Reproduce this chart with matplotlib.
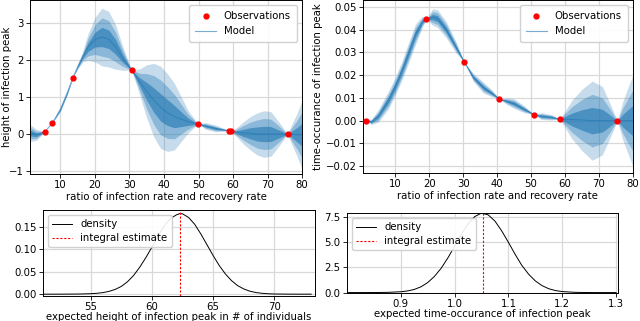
import matplotlib
matplotlib.use("Agg")
import matplotlib.pyplot as plt
import numpy as np

plt.rcParams['font.family'] = ['DejaVu Sans']
plt.rcParams['font.size'] = 7.3

# --- top left: height of infection peak (GP fit) ---
h_obs_x = [5.5, 7.6, 13.6, 30.6, 49.9, 58.8, 59.4, 75.8]
h_obs_y = [0.06, 0.29, 1.52, 1.73, 0.27, 0.09, 0.07, 0.0]
h_x = [1.0, 3.0, 5.5, 7.6, 10.0, 12.0, 13.6, 15.0, 16.5, 18.0, 20.0, 22.0, 24.0,
       26.0, 28.0, 30.6, 33.0, 35.0, 37.0, 39.0, 41.0, 43.0, 45.0, 47.0, 49.9,
       52.0, 55.0, 58.8, 59.4, 61.0, 63.0, 65.0, 67.0, 69.0, 71.0, 73.0, 75.8,
       77.0, 78.5, 80.0]
h_mean = [0.03, -0.02, 0.06, 0.29, 0.67, 1.12, 1.52, 1.82, 2.1, 2.35, 2.55, 2.62, 2.56,
          2.35, 2.05, 1.73, 1.4, 1.15, 0.92, 0.72, 0.58, 0.47, 0.4, 0.33, 0.27,
          0.22, 0.15, 0.09, 0.07, 0.05, 0.03, 0.02, 0.0, 0.0, 0.0, 0.0, 0.0,
          -0.01, -0.02, -0.02]
h_std = [0.08, 0.05, 0.0, 0.0, 0.02, 0.02, 0.0, 0.02, 0.05, 0.12, 0.2, 0.26, 0.25,
         0.2, 0.11, 0.0, 0.12, 0.24, 0.33, 0.37, 0.35, 0.3, 0.2, 0.1, 0.0,
         0.03, 0.03, 0.0, 0.0, 0.04, 0.1, 0.15, 0.19, 0.21, 0.2, 0.12, 0.0,
         0.09, 0.19, 0.31]

# --- top right: time-occurance of infection peak (GP fit) ---
t_obs_x = [1.5, 19.2, 30.4, 40.7, 51.0, 58.4, 75.4]
t_obs_y = [0.0, 0.0446, 0.0256, 0.0095, 0.0026, 0.0007, 0.0]
t_x = [0.5, 1.5, 3.0, 5.0, 8.0, 10.0, 12.0, 14.0, 16.0, 18.0, 19.2, 21.0, 22.5,
       25.0, 28.0, 30.4, 33.0, 36.0, 38.5, 40.7, 43.0, 45.0, 48.0, 51.0, 53.0,
       56.0, 58.4, 60.0, 62.0, 65.0, 68.0, 71.0, 73.0, 75.4, 77.0, 78.5, 80.0]
t_mean = [0.0002, 0.0, -0.0005, 0.002, 0.009, 0.015, 0.022, 0.030, 0.038, 0.0435, 0.0446,
          0.0455, 0.0448, 0.040, 0.032, 0.0256, 0.019, 0.0145, 0.012, 0.0095, 0.0085,
          0.0075, 0.005, 0.0026, 0.002, 0.0015, 0.0007, 0.0006, 0.0005, 0.0003, 0.0,
          0.0, 0.0, 0.0, 0.0, 0.0, 0.0]
t_std = [0.0004, 0.0, 0.0004, 0.0009, 0.0013, 0.0013, 0.0014, 0.0015, 0.0015, 0.0008, 0.0,
         0.0012, 0.0013, 0.0012, 0.0008, 0.0, 0.0006, 0.0008, 0.0005, 0.0, 0.0005,
         0.0007, 0.0005, 0.0, 0.0005, 0.0004, 0.0, 0.0012, 0.0028, 0.0045, 0.0058,
         0.005, 0.0028, 0.0, 0.0028, 0.0048, 0.0067]

# --- bottom left: density of expected height ---
hd_x = [51.0, 52.0, 53.0, 54.0, 54.5, 55.0, 55.5, 56.0, 56.5, 57.0, 57.5, 58.0, 58.5,
        59.0, 59.5, 60.0, 60.5, 61.0, 61.5, 62.0, 62.3, 62.5, 63.0, 63.5, 64.0,
        64.5, 65.0, 65.5, 66.0, 66.5, 67.0, 67.5, 68.0, 68.5, 69.0, 69.5, 70.0,
        71.0, 72.0, 73.0]
hd_y = [0.0, 0.0, 0.0001, 0.0003, 0.0006, 0.0011, 0.0019, 0.0035, 0.0062, 0.0106,
        0.0173, 0.0276, 0.0416, 0.06, 0.0814, 0.105, 0.1296, 0.152, 0.1687, 0.177,
        0.18, 0.1793, 0.171, 0.1556, 0.134, 0.11, 0.086, 0.0637, 0.045, 0.0301,
        0.019, 0.0116, 0.0066, 0.0036, 0.0019, 0.0009, 0.0004, 0.0001, 0.0, 0.0]
h_estimate = 62.26

# --- bottom right: density of expected time-occurance ---
td_x = [0.800, 0.825, 0.850, 0.875, 0.900, 0.9125, 0.925, 0.9375, 0.950, 0.9625,
        0.975, 0.9875, 1.000, 1.0125, 1.025, 1.0375, 1.050, 1.0625, 1.075, 1.0875,
        1.100, 1.1125, 1.125, 1.1375, 1.150, 1.1625, 1.175, 1.1875, 1.200, 1.225,
        1.250, 1.275, 1.300]
td_y = [0.0, 0.001, 0.004, 0.02, 0.08, 0.16, 0.31, 0.57, 0.99, 1.6,
        2.41, 3.44, 4.60, 5.78, 6.83, 7.56, 7.90, 7.73, 7.11, 6.14,
        5.0, 3.8, 2.7, 1.83, 1.16, 0.69, 0.38, 0.2, 0.099, 0.02,
        0.003, 0.0004, 0.0]
t_estimate = 1.052

blue = '#1f77b4'
grid_col = '#d9d9d9'


def gp_panel(ax, x, mean, std, obs_x, obs_y):
    x = np.asarray(x)
    mean = np.asarray(mean)
    std = np.asarray(std)
    for k, a in [(3, 0.25), (2, 0.35), (1, 0.6)]:
        ax.fill_between(x, mean - k * std, mean + k * std, color=blue,
                        alpha=a, linewidth=0)
    ax.plot(x, mean, color=blue, lw=0.8, alpha=0.6, label='Model')
    ax.plot(obs_x, obs_y, 'o', color='red', ms=3.5, label='Observations',
            zorder=5)
    ax.grid(True, color=grid_col, lw=0.9)
    ax.set_axisbelow(True)
    ax.set_xticks([10, 20, 30, 40, 50, 60, 70, 80])
    ax.set_xlabel('ratio of infection rate and recovery rate', labelpad=1)
    handles, labels = ax.get_legend_handles_labels()
    ax.legend(handles[::-1], labels[::-1], loc='upper right', fontsize=7.3,
              framealpha=0.9, borderpad=0.6, labelspacing=0.5)


def density_panel(ax, x, y, est):
    ax.plot(x, y, color='black', lw=0.7, label='density')
    ax.axvline(est, color='red', lw=0.8, ls=(0, (2, 1.5)),
               label='integral estimate')
    ax.grid(True, color=grid_col, lw=0.9)
    ax.set_axisbelow(True)
    ax.legend(loc='upper left', fontsize=7.3, framealpha=0.9,
              borderpad=0.4, labelspacing=0.4)


fig = plt.figure(figsize=(6.4, 3.21), dpi=100)

ax1 = fig.add_axes([0.047, 0.458, 0.425, 0.542])
gp_panel(ax1, h_x, h_mean, h_std, h_obs_x, h_obs_y)
ax1.set_xlim(1.2, 80)
ax1.set_ylim(-1.08, 3.62)
ax1.set_yticks([-1, 0, 1, 2, 3])
ax1.set_ylabel('height of infection peak')
ax1.yaxis.set_label_coords(-0.068, 0.5)

ax2 = fig.add_axes([0.567, 0.461, 0.422, 0.539])
gp_panel(ax2, t_x, t_mean, t_std, t_obs_x, t_obs_y)
ax2.set_xlim(0.5, 80)
ax2.set_ylim(-0.023, 0.053)
ax2.set_yticks([-0.02, -0.01, 0.0, 0.01, 0.02, 0.03, 0.04, 0.05])
ax2.set_ylabel('time-occurance of infection peak', labelpad=2)

ax3 = fig.add_axes([0.067, 0.078, 0.425, 0.268])
density_panel(ax3, hd_x, hd_y, h_estimate)
ax3.set_xlim(51.1, 73.3)
ax3.set_ylim(-0.004, 0.188)
ax3.set_xticks([55, 60, 65, 70])
ax3.set_yticks([0.0, 0.05, 0.10, 0.15])
ax3.set_xlabel('expected height of infection peak in # of individuals',
               labelpad=0)

ax4 = fig.add_axes([0.542, 0.087, 0.424, 0.249])
density_panel(ax4, td_x, td_y, t_estimate)
ax4.set_xlim(0.80, 1.304)
ax4.set_ylim(-0.05, 7.9)
ax4.set_xticks([0.9, 1.0, 1.1, 1.2, 1.3])
ax4.set_yticks([0.0, 2.5, 5.0, 7.5])
ax4.set_xlabel('expected time-occurance of infection peak', labelpad=0)

for ax in (ax1, ax2, ax3, ax4):
    ax.tick_params(length=3, width=0.6, pad=1.5)
    for s in ax.spines.values():
        s.set_linewidth(0.7)

fig.savefig('out.png', dpi=100)
